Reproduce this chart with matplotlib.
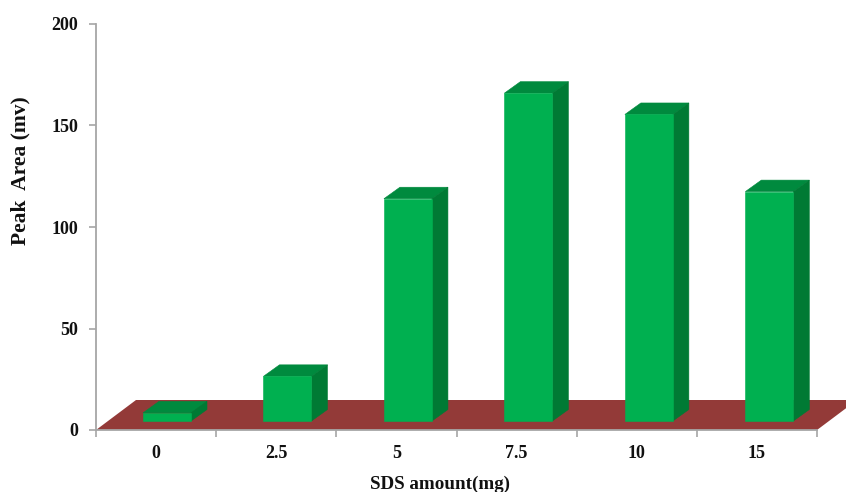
import matplotlib
matplotlib.use("Agg")
import matplotlib.pyplot as plt
from matplotlib.patches import Polygon

categories = ["0", "2.5", "5", "7.5", "10", "15"]
values = [4, 22, 109.5, 161.5, 151, 113]
y_ticks = [0, 50, 100, 150, 200]

W, H = 846, 492
L, R, T, B = 96, 817, 24, 430
plt.rcParams['font.family'] = ['Liberation Serif', 'DejaVu Serif']

fig = plt.figure(figsize=(W / 100, H / 100), dpi=100)
ax = fig.add_axes([L / W, 1 - B / H, (R - L) / W, (B - T) / H])
n = len(categories)
ax.set_xlim(0, n)
ax.set_ylim(0, y_ticks[-1])
ux = (R - L) / n            # pixels per category
uy = (B - T) / y_ticks[-1]  # pixels per y unit

# depth offsets in pixels, converted to data units
def px(dx, dy):
    return dx / ux, dy / uy

FLOOR, TOP, SIDE, FRONT = '#933a38', '#008a3e', '#007a34', '#00b050'
GREY = '#a6a6a6'
TEXT = '#111111'

# floor
fx, fy = px(40, 30)
ax.add_patch(Polygon([(0, 0), (n, 0), (n + fx, fy), (fx, fy)], closed=True,
                     facecolor=FLOOR, edgecolor='none', clip_on=False, zorder=1))

# bars
bw = 48 / ux
bx0, by0 = px(47, 9)
sx, sy = px(16, 11.5)
lefts = [i + bx0 + 0.3 * i / ux for i in range(n)]
for x, v in zip(lefts, values):
    t = by0 + v
    ax.add_patch(Polygon([(x, t), (x + bw, t), (x + bw + sx, t + sy), (x + sx, t + sy)],
                         closed=True, facecolor=TOP, edgecolor=TOP, linewidth=0.4, zorder=2.5))
    ax.add_patch(Polygon([(x + bw, by0), (x + bw + sx, by0 + sy), (x + bw + sx, t + sy), (x + bw, t)],
                         closed=True, facecolor=SIDE, edgecolor=SIDE, linewidth=0.4, zorder=2.5))
ax.bar(lefts, values, width=bw, bottom=by0, align='edge', color=FRONT,
       edgecolor=FRONT, linewidth=0.4, zorder=3)

# axes
for s in ('top', 'right'):
    ax.spines[s].set_visible(False)
for s in ('left', 'bottom'):
    ax.spines[s].set_color(GREY)
    ax.spines[s].set_linewidth(1.3)
    ax.spines[s].set_zorder(2)

ax.set_xticks(range(n + 1))
ax.set_xticklabels([])
ax.set_xticks([i + 0.5 for i in range(n)], minor=True)
ax.set_xticklabels(categories, minor=True, fontsize=13, fontweight='bold', color=TEXT)
ax.tick_params(axis='x', which='major', length=5, width=1.2, color=GREY)
ax.tick_params(axis='x', which='minor', length=0, pad=11)
ax.set_yticks(y_ticks)
ax.set_yticklabels([str(v) for v in y_ticks], fontsize=13, fontweight='bold', color=TEXT)
ax.tick_params(axis='y', length=5, width=1.2, color=GREY, pad=8)

fig.text(440 / W, 1 - 484 / H, "SDS amount(mg)", ha='center', va='center',
         fontsize=13.7, fontweight='bold', color=TEXT)
fig.text(20 / W, 1 - 171 / H, "Peak  Area (mv)", ha='center', va='center', rotation=90,
         fontsize=15.5, fontweight='bold', color=TEXT)

fig.savefig("out.png", dpi=100)
